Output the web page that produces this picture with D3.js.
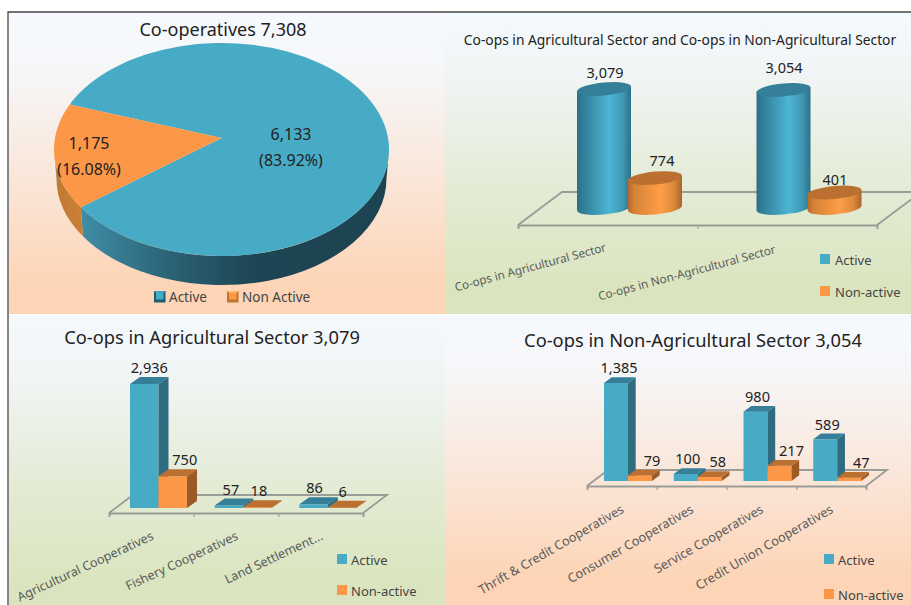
<!DOCTYPE html>
<html><head><meta charset="utf-8">
<script src="https://cdn.jsdelivr.net/npm/d3@7/dist/d3.min.js"></script>
<style>html,body{margin:0;padding:0;background:#fff}svg{display:block}text{font-family:"Noto Sans",sans-serif}</style>
</head><body><svg id="c" width="911" height="605"></svg>
<script>
// ---- data ----
const pieLabels = ["Active", "Non Active"];
const pieValues = [6133, 1175];
const piePercents = ["83.92%", "16.08%"];
const seriesNames = ["Active", "Non-active"];
const sectorCats = ["Co-ops in Agricultural Sector", "Co-ops in Non-Agricultural Sector"];
const sectorActive = [3079, 3054];
const sectorNon = [774, 401];
const agriCats = ["Agricultural Cooperatives", "Fishery Cooperatives", "Land Settlement..."];
const agriActive = [2936, 57, 86];
const agriNon = [750, 18, 6];
const nonAgriCats = ["Thrift & Credit Cooperatives", "Consumer Cooperatives", "Service Cooperatives", "Credit Union Cooperatives"];
const nonAgriActive = [1385, 100, 980, 589];
const nonAgriNon = [79, 58, 217, 47];

// ---- styles ----
const BLUE = {front:"#48abc6", side:"#2f6c80", top:"#357f98"};
const ORG = {front:"#fb9746", side:"#9c5a26", top:"#bb6f30"};
const TXT = "#222", AX = "#5a5a5a", FLOOR = "#9b9b98";
const fmt = d3.format(",");
const svg = d3.select("#c");
const defs = svg.append("defs");

function vGrad(id, stops){
  const g = defs.append("linearGradient").attr("id",id).attr("x1",0).attr("y1",0).attr("x2",0).attr("y2",1);
  stops.forEach(s=>g.append("stop").attr("offset",s[0]).attr("stop-color",s[1]));
}
function hGrad(id, stops, user){
  const g = defs.append("linearGradient").attr("id",id);
  if(user) g.attr("gradientUnits","userSpaceOnUse").attr("x1",user[0]).attr("y1",0).attr("x2",user[1]).attr("y2",0);
  else g.attr("x1",0).attr("y1",0).attr("x2",1).attr("y2",0);
  stops.forEach(s=>g.append("stop").attr("offset",s[0]).attr("stop-color",s[1]));
}
vGrad("peach",[[0,"#f5f9fd"],[0.18,"#f6f7f9"],[0.55,"#fae6d9"],[0.92,"#fdd4b5"],[1,"#fdd4b5"]]);
vGrad("green",[[0,"#f4f9fd"],[0.2,"#f1f5f5"],[0.6,"#e3ebd4"],[0.92,"#dae5bf"],[1,"#dae5bf"]]);
hGrad("cylB",[[0,"#2a7088"],[0.12,"#317f99"],[0.6,"#4db5d5"],[0.85,"#3f97b2"],[1,"#2c7189"]]);
hGrad("cylO",[[0,"#b56a2a"],[0.12,"#d58237"],[0.6,"#ff9d48"],[0.85,"#dd8a3d"],[1,"#a8652a"]]);
hGrad("pieSideB",[[0,"#3f8ca5"],[0.28,"#2b6376"],[0.55,"#1e4553"],[1,"#1d4351"]],[83,389]);
hGrad("pieSideO",[[0,"#9a8064"],[0.14,"#c07a34"],[1,"#cc7f36"]],[54,84]);

// ---- panels ----
svg.append("rect").attr("x",9).attr("y",13).attr("width",436).attr("height",301).attr("fill","url(#peach)");
svg.append("rect").attr("x",445).attr("y",13).attr("width",466).attr("height",301).attr("fill","url(#green)");
svg.append("rect").attr("x",9).attr("y",315).attr("width",436).attr("height",290).attr("fill","url(#green)");
svg.append("rect").attr("x",445).attr("y",315).attr("width",466).attr("height",290).attr("fill","url(#peach)");
svg.append("path").attr("d","M8,605V12H911").attr("fill","none").attr("stroke","#444").attr("stroke-width",1.3);

function title(t,x,y,size){
  svg.append("text").attr("x",x).attr("y",y).attr("text-anchor","middle").attr("dominant-baseline","central")
    .attr("font-size",size).attr("fill",TXT).text(t);
}

// ---- pie ----
(function(){
  const cx=221.5, cy=149.5, rx=167.5, ry=106.5, apexX=221.5, apexY=138, depth=29, rx2=165;
  const pt=(a,r=rx,dy=0)=>[cx+r*Math.sin(a), cy+dy-ry*Math.cos(a)];
  const rot=295*Math.PI/180;
  const arcs=d3.pie().sort(null).startAngle(rot).endAngle(rot+2*Math.PI)(pieValues);
  const norm=a=>{a%= (2*Math.PI); return a<0?a+2*Math.PI:a;};
  const g=svg.append("g");
  const side=(a0,a1,fill)=>{
    const p0=pt(a0),p1=pt(a1),q1=pt(a1,rx2,depth),q0=pt(a0,rx2,depth);
    g.append("path").attr("fill",fill).attr("d",
      `M${p0}A${rx},${ry} 0 0 1 ${p1}L${q1}A${rx2},${ry} 0 0 0 ${q0}Z`);
  };
  const border=norm(arcs[1].startAngle);
  side(Math.PI/2,border,"url(#pieSideB)");
  side(border,Math.PI*1.5,"url(#pieSideO)");
  arcs.forEach((d,i)=>{
    const p0=pt(d.startAngle),p1=pt(d.endAngle),large=(d.endAngle-d.startAngle)>Math.PI?1:0;
    g.append("path").attr("fill",i?ORG.front:BLUE.front)
      .attr("d",`M${apexX},${apexY}L${p0}A${rx},${ry} 0 ${large} 1 ${p1}Z`);
  });
  // data labels
  const lab=[[291,134,160],[89,143,169]];
  pieValues.forEach((v,i)=>{
    svg.append("text").attr("x",lab[i][0]).attr("y",lab[i][1]).attr("text-anchor","middle").attr("dominant-baseline","central").attr("font-size",16).attr("fill",TXT).text(fmt(v));
    svg.append("text").attr("x",lab[i][0]).attr("y",lab[i][2]).attr("text-anchor","middle").attr("dominant-baseline","central").attr("font-size",16).attr("fill",TXT).text("("+piePercents[i]+")");
  });
  // legend with bevelled keys
  [[154,169],[227,242]].forEach((p,i)=>{
    const x=p[0],y=291,s=11.5,c=i?ORG:BLUE;
    const k=svg.append("g").attr("transform",`translate(${x},${y})`);
    k.append("rect").attr("width",s).attr("height",s).attr("fill",i?"#c0742e":"#1f5a70");
    k.append("path").attr("d",`M0,0H${s}L${s-2},2H2Z`).attr("fill",i?"#fdb860":"#3da3c1");
    k.append("rect").attr("x",2).attr("y",2).attr("width",s-4).attr("height",s-5).attr("fill",c.front);
    svg.append("text").attr("x",p[1]).attr("y",297).attr("dominant-baseline","central").attr("font-size",13.5).attr("fill","#444").text(pieLabels[i]);
  });
  title("Co-operatives 7,308",223,29,18);
})();

// ---- shared pieces for the bar charts ----
function floorAndAxis(L, cats){
  const g=svg.append("g");
  g.append("path").attr("fill","none").attr("stroke",FLOOR).attr("stroke-width",1.8)
    .attr("d",`M${L.x0},${L.base}L${L.x0+L.fdx},${L.back}H${L.x1+L.fdx}L${L.x1},${L.base}`);
  const edge=d3.scaleLinear().domain([0,cats.length]).range([L.x0,L.x1]);
  const ax=g.append("g").attr("transform",`translate(0,${L.base})`)
    .call(d3.axisBottom(edge).ticks(cats.length).tickFormat("").tickSize(4).tickSizeOuter(4));
  ax.selectAll("path").attr("stroke",FLOOR).attr("stroke-width",1.8);
  ax.selectAll("line").attr("stroke",FLOOR).attr("stroke-width",1.2);
  const band=d3.scaleBand().domain(cats).range([L.x0,L.x1]);
  cats.forEach((c,i)=>{
    const x=band(c)+band.bandwidth()/2+(L.ldx?L.ldx[i]:L.ldx0), y=L.ly+(L.ldy?L.ldy[i]:0);
    svg.append("text").attr("transform",`translate(${x},${y}) rotate(${L.rot})`)
      .attr("text-anchor","end").attr("font-size",L.lsize).attr("fill",AX).text(c);
  });
  return band;
}
function legend(x,tx,ys){
  seriesNames.forEach((n,i)=>{
    svg.append("rect").attr("x",x).attr("y",ys[i]).attr("width",10).attr("height",10).attr("fill",i?ORG.front:BLUE.front);
    svg.append("text").attr("x",tx).attr("y",ys[i]+6).attr("dominant-baseline","central").attr("font-size",13).attr("fill","#444").text(n);
  });
}
function valueLabel(x,y,v,size){
  svg.append("text").attr("x",x).attr("y",y).attr("text-anchor","middle").attr("dominant-baseline","central")
    .attr("font-size",size||14).attr("fill",TXT).text(fmt(v));
}

// ---- cylinder chart ----
(function(){
  const L={x0:518,x1:877,base:225,back:192,fdx:44,rot:-15,lsize:11.7,ly:251,ldx:[-1,-11],ldy:[0,2]};
  const band=floorAndAxis(L,sectorCats);
  const y=d3.scaleLinear().domain([0,3079]).range([208,89]);
  const rx=27, ry=6.5;
  const offs=d3.scaleOrdinal().domain([0,1]).range([86,137]);
  sectorCats.forEach((c,i)=>{
    const x0=band(c);
    [[sectorActive[i],"url(#cylB)",BLUE.top,0],[sectorNon[i],"url(#cylO)",ORG.top,1]].forEach(s=>{
      const cx=x0+offs(s[3]);
      const top=y(s[0]),bot=y(0);
      const g=svg.append("g").attr("transform",`translate(${cx},0) skewY(-5)`);
      g.append("path").attr("fill",s[1])
        .attr("d",`M${-rx},${top}V${bot}A${rx},${ry} 0 0 0 ${rx},${bot}V${top}Z`);
      g.append("ellipse").attr("cx",0).attr("cy",top).attr("rx",rx).attr("ry",ry).attr("fill",s[2]);
    });
  });
  [[605,72],[784,67]].forEach((p,i)=>valueLabel(p[0],p[1],sectorActive[i],14.5));
  [[662,160],[835,179]].forEach((p,i)=>valueLabel(p[0],p[1],sectorNon[i],14.5));
  legend(820,835,[254,286]);
  title("Co-ops in Agricultural Sector and Co-ops in Non-Agricultural Sector",680,39,13.8);
})();

// ---- 3-D bar charts ----
function bars3d(L,cats,active,non,maxV,maxH,nudge){
  const band=floorAndAxis(L,cats);
  const y=d3.scaleLinear().domain([0,maxV]).range([L.bar,L.bar-maxH]);
  const x=d3.scaleBand().domain([0,1]).range([L.bx,L.bx+2*L.bw]);
  cats.forEach((c,i)=>{
    const x0=band(c);
    [[active[i],BLUE],[non[i],ORG]].forEach((s,j)=>{
      const X=x0+x(j), W=x.bandwidth(), T=y(s[0]), B=y(0), g=svg.append("g");
      g.append("rect").attr("x",X).attr("y",T).attr("width",W).attr("height",B-T).attr("fill",s[1].front);
      g.append("path").attr("fill",s[1].side).attr("d",`M${X+W},${T}l${L.dx},${-L.dy}V${B-L.dy}L${X+W},${B}Z`);
      g.append("path").attr("fill",s[1].top).attr("d",`M${X},${T}l${L.dx},${-L.dy}h${W}l${-L.dx},${L.dy}Z`);
      valueLabel(X+W/2+nudge[j][i],T-L.dy-10,s[0],14.5);
    });
  });
}
bars3d({x0:109,x1:363,base:513,back:495,fdx:24,rot:-25,lsize:12.5,ly:539,ldx0:3,bar:508,bx:21,bw:28.5,dx:10,dy:7},
  agriCats,agriActive,agriNon,2936,124,[[5,2,1],[12,1.5,0.5]]);
legend(337,351,[554,585]);
title("Co-ops in Agricultural Sector 3,079",212,336,18.3);

bars3d({x0:587,x1:866,base:486,back:470,fdx:21,rot:-30,lsize:12.7,ly:512,ldx0:3,bar:481,bx:17,bw:24,dx:7.7,dy:5.7},
  nonAgriCats,nonAgriActive,nonAgriNon,1385,98,[[3,2,2,2],[12,8,12,12]]);
legend(824,838,[554,589]);
title("Co-ops in Non-Agricultural Sector 3,054",693,339,18.3);
</script></body></html>
